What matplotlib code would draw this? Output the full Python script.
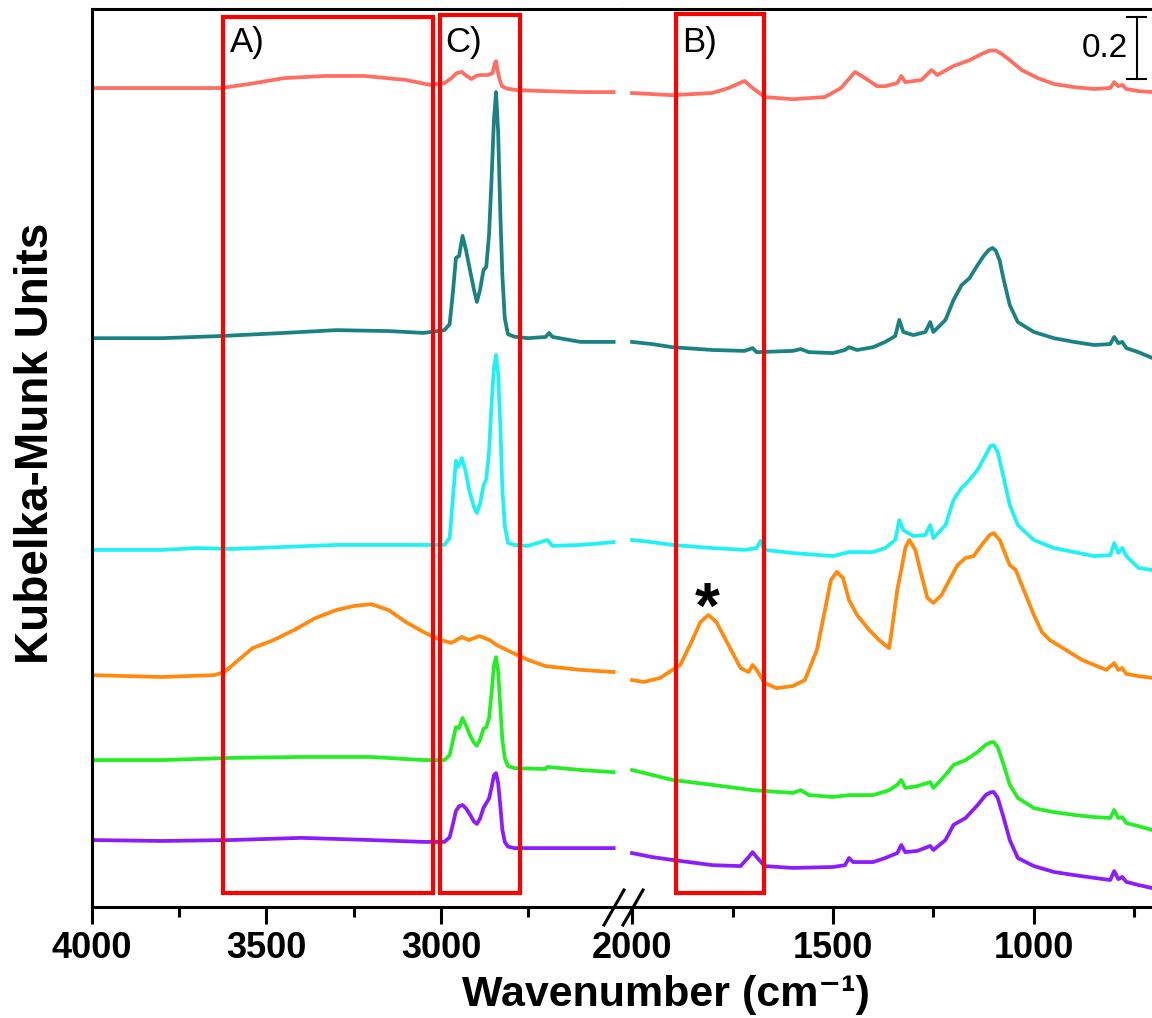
import matplotlib.pyplot as plt
from matplotlib.patches import Rectangle
from matplotlib.lines import Line2D

plt.rcParams['font.family'] = ['Liberation Sans', 'DejaVu Sans']

# Kubelka-Munk traces (stacked, offsets included), left part 4000-2500 cm-1, right part 2000-700 cm-1
salmon_wl = [4000, 3630, 3550, 3450, 3330, 3220, 3100, 3030, 2990, 2970, 2955, 2940, 2925, 2912, 2900,
             2885, 2865, 2852, 2846, 2842, 2838, 2832, 2825, 2810, 2780, 2700, 2600, 2505]
salmon_yl = [2.642, 2.642, 2.655, 2.674, 2.681, 2.681, 2.668, 2.652, 2.658, 2.674, 2.690, 2.694, 2.680,
             2.671, 2.681, 2.684, 2.684, 2.690, 2.720, 2.729, 2.700, 2.670, 2.648, 2.640, 2.635, 2.632,
             2.629, 2.629]
salmon_wr = [2000, 1900, 1800, 1760, 1720, 1700, 1670, 1600, 1520, 1480, 1445, 1420, 1390, 1370, 1340,
             1330, 1320, 1280, 1255, 1240, 1200, 1160, 1130, 1110, 1095, 1080, 1060, 1030, 990, 950, 900,
             850, 810, 800, 790, 780, 770, 740, 705]
salmon_yr = [2.626, 2.619, 2.626, 2.642, 2.665, 2.642, 2.613, 2.606, 2.613, 2.642, 2.694, 2.674, 2.648,
             2.648, 2.658, 2.681, 2.661, 2.668, 2.700, 2.684, 2.713, 2.732, 2.752, 2.763, 2.763, 2.752,
             2.732, 2.700, 2.674, 2.655, 2.645, 2.639, 2.642, 2.661, 2.648, 2.652, 2.639, 2.632, 2.629]

teal_wl = [4000, 3800, 3630, 3450, 3300, 3150, 3050, 2990, 2975, 2965, 2957, 2948, 2938, 2928, 2915,
           2905, 2897, 2888, 2878, 2870, 2862, 2855, 2848, 2842, 2836, 2830, 2824, 2817, 2808, 2790,
           2750, 2700, 2690, 2680, 2600, 2505]
teal_yl = [1.835, 1.835, 1.842, 1.852, 1.861, 1.858, 1.852, 1.861, 1.880, 1.990, 2.094, 2.100, 2.165,
           2.119, 2.045, 1.990, 1.952, 1.990, 2.055, 2.065, 2.170, 2.345, 2.540, 2.629, 2.500, 2.248,
           2.040, 1.900, 1.848, 1.840, 1.835, 1.839, 1.852, 1.839, 1.823, 1.823]
teal_wr = [2000, 1950, 1900, 1800, 1720, 1700, 1690, 1600, 1580, 1560, 1500, 1470, 1460, 1440, 1400,
           1370, 1345, 1335, 1325, 1300, 1270, 1258, 1250, 1220, 1200, 1180, 1160, 1140, 1125, 1112,
           1103, 1095, 1085, 1075, 1060, 1040, 1000, 950, 900, 850, 810, 800, 790, 780, 770, 740, 705]
teal_yr = [1.823, 1.816, 1.806, 1.797, 1.794, 1.803, 1.790, 1.794, 1.800, 1.790, 1.787, 1.797, 1.806,
           1.797, 1.806, 1.823, 1.842, 1.894, 1.855, 1.845, 1.855, 1.887, 1.855, 1.894, 1.958, 2.006,
           2.029, 2.071, 2.100, 2.120, 2.126, 2.118, 2.085, 2.023, 1.942, 1.887, 1.855, 1.835, 1.823,
           1.813, 1.816, 1.839, 1.819, 1.823, 1.803, 1.790, 1.771]

cyan_wl = [4000, 3800, 3700, 3600, 3300, 3000, 2990, 2975, 2965, 2957, 2950, 2940, 2930, 2918, 2905,
           2897, 2888, 2878, 2870, 2862, 2855, 2848, 2842, 2836, 2830, 2824, 2817, 2808, 2790, 2750,
           2695, 2680, 2600, 2505]
cyan_yl = [1.152, 1.152, 1.158, 1.155, 1.168, 1.168, 1.168, 1.190, 1.330, 1.440, 1.420, 1.448, 1.410,
           1.340, 1.290, 1.271, 1.300, 1.360, 1.380, 1.470, 1.620, 1.740, 1.781, 1.720, 1.560, 1.350,
           1.230, 1.175, 1.168, 1.165, 1.184, 1.165, 1.168, 1.177]
cyan_wr = [2000, 1950, 1900, 1800, 1720, 1690, 1680, 1670, 1600, 1500, 1460, 1400, 1370, 1345, 1335,
           1325, 1300, 1270, 1258, 1250, 1220, 1200, 1180, 1165, 1140, 1120, 1108, 1100, 1090, 1075,
           1060, 1040, 1000, 950, 900, 850, 810, 800, 790, 780, 770, 740, 705]
cyan_yr = [1.184, 1.177, 1.168, 1.158, 1.152, 1.158, 1.181, 1.152, 1.142, 1.132, 1.145, 1.145, 1.158,
           1.184, 1.248, 1.216, 1.197, 1.200, 1.232, 1.190, 1.232, 1.313, 1.352, 1.371, 1.410, 1.458,
           1.487, 1.490, 1.468, 1.384, 1.297, 1.232, 1.184, 1.158, 1.145, 1.132, 1.135, 1.174, 1.142,
           1.158, 1.132, 1.094, 1.087]

orange_wl = [4000, 3800, 3650, 3620, 3580, 3540, 3480, 3420, 3360, 3300, 3250, 3200, 3150, 3100, 3050,
             3000, 2970, 2940, 2920, 2890, 2860, 2840, 2800, 2750, 2700, 2650, 2600, 2505]
orange_yl = [0.748, 0.742, 0.748, 0.758, 0.797, 0.835, 0.861, 0.894, 0.932, 0.958, 0.971, 0.977, 0.958,
             0.919, 0.887, 0.861, 0.852, 0.871, 0.861, 0.874, 0.861, 0.845, 0.823, 0.797, 0.777, 0.771,
             0.765, 0.758]
orange_wr = [2000, 1970, 1930, 1880, 1850, 1830, 1810, 1790, 1760, 1730, 1710, 1700, 1690, 1670, 1640,
             1600, 1570, 1540, 1520, 1505, 1490, 1475, 1460, 1440, 1410, 1385, 1370, 1360, 1350, 1340,
             1330, 1320, 1310, 1295, 1280, 1265, 1250, 1230, 1210, 1190, 1170, 1150, 1130, 1110, 1100,
             1085, 1070, 1060, 1045, 1020, 1000, 980, 960, 940, 920, 880, 850, 820, 800, 790, 780, 770,
             740, 705]
orange_yr = [0.732, 0.726, 0.739, 0.781, 0.861, 0.919, 0.942, 0.919, 0.845, 0.771, 0.758, 0.781, 0.765,
             0.723, 0.706, 0.713, 0.732, 0.829, 0.958, 1.055, 1.081, 1.061, 0.990, 0.942, 0.894, 0.861,
             0.845, 0.835, 0.926, 1.023, 1.087, 1.158, 1.184, 1.152, 1.071, 0.997, 0.981, 1.006, 1.055,
             1.103, 1.126, 1.132, 1.168, 1.200, 1.206, 1.184, 1.135, 1.103, 1.087, 1.006, 0.942, 0.887,
             0.861, 0.845, 0.829, 0.797, 0.781, 0.765, 0.787, 0.765, 0.771, 0.752, 0.745, 0.739]

green_wl = [4000, 3800, 3600, 3400, 3200, 3050, 2990, 2975, 2965, 2957, 2948, 2938, 2928, 2915, 2905,
            2897, 2888, 2878, 2870, 2862, 2855, 2848, 2842, 2836, 2830, 2824, 2817, 2808, 2790, 2700,
            2695, 2600, 2505]
green_yl = [0.474, 0.474, 0.481, 0.484, 0.484, 0.474, 0.474, 0.490, 0.540, 0.580, 0.577, 0.610, 0.585,
            0.550, 0.530, 0.520, 0.540, 0.575, 0.580, 0.610, 0.690, 0.780, 0.806, 0.760, 0.650, 0.540,
            0.480, 0.455, 0.448, 0.445, 0.452, 0.442, 0.435]
green_wr = [2000, 1950, 1900, 1800, 1700, 1600, 1580, 1560, 1500, 1460, 1400, 1360, 1340, 1330, 1320,
            1290, 1258, 1250, 1220, 1200, 1170, 1140, 1120, 1108, 1100, 1090, 1075, 1060, 1040, 1000, 950,
            900, 850, 810, 800, 790, 780, 770, 740, 705]
green_yr = [0.442, 0.426, 0.410, 0.394, 0.377, 0.368, 0.377, 0.361, 0.355, 0.361, 0.361, 0.377, 0.394,
            0.410, 0.384, 0.390, 0.403, 0.384, 0.426, 0.458, 0.474, 0.500, 0.523, 0.531, 0.532, 0.516,
            0.458, 0.394, 0.352, 0.319, 0.306, 0.297, 0.290, 0.287, 0.313, 0.287, 0.290, 0.271, 0.261,
            0.248]

purple_wl = [4000, 3800, 3600, 3400, 3200, 3050, 2990, 2975, 2965, 2957, 2948, 2938, 2928, 2915, 2905,
             2897, 2888, 2878, 2870, 2862, 2855, 2848, 2842, 2836, 2830, 2824, 2817, 2808, 2790, 2700,
             2600, 2505]
purple_yl = [0.216, 0.213, 0.216, 0.223, 0.216, 0.210, 0.210, 0.225, 0.270, 0.310, 0.325, 0.329, 0.318,
             0.295, 0.275, 0.268, 0.285, 0.320, 0.335, 0.350, 0.385, 0.425, 0.432, 0.400, 0.330, 0.250,
             0.210, 0.195, 0.190, 0.190, 0.190, 0.190]
purple_wr = [2000, 1950, 1900, 1800, 1730, 1710, 1700, 1690, 1670, 1600, 1500, 1470, 1460, 1450, 1400,
             1370, 1340, 1330, 1320, 1290, 1258, 1250, 1220, 1200, 1170, 1140, 1120, 1108, 1100, 1090,
             1075, 1060, 1040, 1000, 950, 900, 850, 810, 800, 790, 780, 770, 740, 705]
purple_yr = [0.174, 0.161, 0.152, 0.135, 0.132, 0.161, 0.177, 0.161, 0.132, 0.126, 0.129, 0.135, 0.158,
             0.145, 0.145, 0.158, 0.174, 0.200, 0.177, 0.181, 0.197, 0.184, 0.216, 0.265, 0.287, 0.329,
             0.361, 0.370, 0.371, 0.352, 0.287, 0.216, 0.158, 0.132, 0.113, 0.103, 0.094, 0.087, 0.116,
             0.090, 0.097, 0.081, 0.071, 0.061]

traces = [
    (salmon_wl, salmon_yl, salmon_wr, salmon_yr, '#ff6f61'),
    (teal_wl, teal_yl, teal_wr, teal_yr, '#1a8282'),
    (cyan_wl, cyan_yl, cyan_wr, cyan_yr, '#1ff2f2'),
    (orange_wl, orange_yl, orange_wr, orange_yr, '#ff8a0d'),
    (green_wl, green_yl, green_wr, green_yr, '#25ee25'),
    (purple_wl, purple_yl, purple_wr, purple_yr, '#8a1cff'),
]

# highlighted regions (cm-1)
box_a = (3624, 3022)
box_c = (3002, 2772)
box_b = (1891, 1672)

W, H = 1152, 1018
fig = plt.figure(figsize=(W / 100, H / 100), dpi=100)
axL = fig.add_axes([92 / W, 1 - 907 / H, 530 / W, 898 / H])
axR = fig.add_axes([622 / W, 1 - 907 / H, 530 / W, 898 / H])

for wl, yl, wr, yr, c in traces:
    axL.plot(wl, yl, color=c, lw=2.7, solid_joinstyle='round')
    axR.plot(wr, yr, color=c, lw=2.7, solid_joinstyle='round')

axL.set_xlim(4000, 2481)
axR.set_xlim(2025, 706)
for ax in (axL, axR):
    ax.set_ylim(0, 2.897)
    ax.set_yticks([])
    for s in ax.spines.values():
        s.set_linewidth(2.2)
    ax.tick_params(axis='x', which='major', length=12, width=2.2, labelsize=26, pad=5)
    ax.tick_params(axis='x', which='minor', length=7, width=2.2)
axL.spines['right'].set_visible(False)
axR.spines['left'].set_visible(False)
axR.spines['right'].set_visible(False)

axL.set_xticks([4000, 3500, 3000])
axL.set_xticks([3750, 3250, 2750], minor=True)
axR.set_xticks([2000, 1500, 1000])
axR.set_xticks([1750, 1250, 750], minor=True)
for ax in (axL, axR):
    for lbl in ax.get_xticklabels():
        lbl.set_fontweight('bold')

# red boxes
for ax, (x0, x1), top in ((axL, box_a, 2.871), (axL, box_c, 2.877), (axR, box_b, 2.881)):
    ax.add_patch(Rectangle((x0, 0.045), x1 - x0, top - 0.045, fill=False, ec='red', lw=3,
                           zorder=4, clip_on=False))
axL.text(3605, 2.79, 'A)', fontsize=25, va='center')
axL.text(2989, 2.79, 'C)', fontsize=25, va='center')
axR.text(1876, 2.79, 'B)', fontsize=25, va='center')

# asterisk over the carbonyl band
axR.text(1813, 0.955, '*', fontsize=46, fontweight='bold', ha='center', va='center')

# 0.2 scale bar
axR.plot([744, 744], [2.671, 2.871], color='k', lw=1.5)
axR.plot([768, 720], [2.871, 2.871], color='k', lw=1.5)
axR.plot([768, 720], [2.671, 2.671], color='k', lw=1.5)
axR.text(766, 2.771, '0.2', fontsize=24, ha='right', va='center')

# axis break marks
for x0 in (604, 623):
    fig.add_artist(Line2D([x0 / W, (x0 + 20) / W], [1 - 925 / H, 1 - 890 / H], color='k', lw=2.2))

fig.text(36 / W, 1 - 443 / H, 'Kubelka-Munk Units', rotation=90, fontsize=33, fontweight='bold',
         ha='center', va='center')
fig.text(666 / W, 1 - 995 / H, 'Wavenumber (cm\u207b\u00b9)', fontsize=31, fontweight='bold',
         ha='center', va='center')

fig.savefig('out.png', dpi=100)
